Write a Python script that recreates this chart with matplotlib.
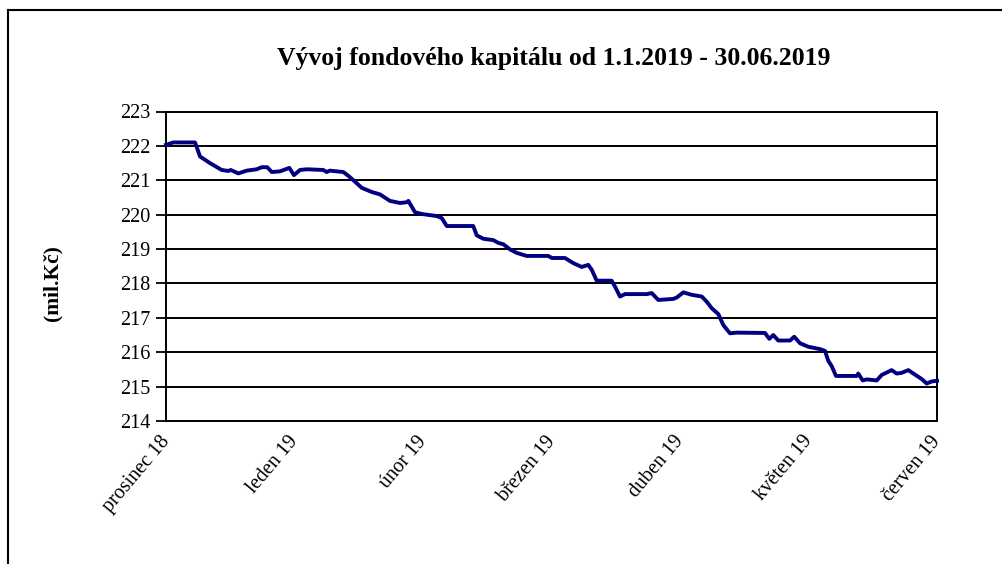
import matplotlib
matplotlib.use("Agg")
import matplotlib.pyplot as plt
import matplotlib.transforms as mtransforms
from matplotlib.lines import Line2D

# x positions in months from "prosinec 18" (0) to "červen 19" (6)
month_pos = [0.0, 0.057, 0.226, 0.265, 0.342, 0.433, 0.485, 0.503, 0.563, 0.628,
             0.706, 0.745, 0.788, 0.823, 0.887, 0.960, 0.996, 1.043, 1.095, 1.224,
             1.250, 1.276, 1.380, 1.419, 1.471, 1.523, 1.601, 1.665, 1.743, 1.821,
             1.873, 1.886, 1.938, 1.990, 2.107, 2.146, 2.185, 2.391, 2.418, 2.469,
             2.547, 2.586, 2.625, 2.677, 2.729, 2.807, 2.975, 3.002, 3.105, 3.170,
             3.235, 3.286, 3.313, 3.352, 3.468, 3.494, 3.533, 3.572, 3.741, 3.780,
             3.831, 3.948, 3.974, 4.026, 4.091, 4.169, 4.208, 4.247, 4.298, 4.337,
             4.389, 4.441, 4.661, 4.695, 4.726, 4.765, 4.856, 4.889, 4.934, 4.998,
             5.089, 5.128, 5.154, 5.180, 5.214, 5.375, 5.387, 5.422, 5.453, 5.531,
             5.570, 5.609, 5.647, 5.686, 5.725, 5.777, 5.816, 5.881, 5.920, 5.959,
             6.0]
capital = [222.03, 222.10, 222.10, 221.69, 221.50, 221.30, 221.27, 221.30, 221.20, 221.28,
           221.32, 221.38, 221.38, 221.24, 221.26, 221.36, 221.15, 221.30, 221.32, 221.30,
           221.24, 221.28, 221.24, 221.13, 220.96, 220.78, 220.66, 220.59, 220.40, 220.34,
           220.36, 220.40, 220.07, 220.02, 219.96, 219.90, 219.67, 219.67, 219.40, 219.30,
           219.26, 219.18, 219.14, 218.99, 218.89, 218.80, 218.80, 218.74, 218.74, 218.59,
           218.48, 218.54, 218.40, 218.08, 218.08, 217.91, 217.62, 217.69, 217.69, 217.72,
           217.52, 217.55, 217.59, 217.74, 217.67, 217.62, 217.47, 217.28, 217.11, 216.79,
           216.55, 216.57, 216.56, 216.39, 216.50, 216.34, 216.34, 216.45, 216.26, 216.16,
           216.09, 216.04, 215.75, 215.60, 215.31, 215.31, 215.38, 215.18, 215.21, 215.18,
           215.34, 215.41, 215.48, 215.38, 215.40, 215.48, 215.38, 215.22, 215.09, 215.15,
           215.17]
tick_labels = ["prosinec 18", "leden 19", "únor 19", "březen 19", "duben 19",
               "květen 19", "červen 19"]
y_ticks = [214, 215, 216, 217, 218, 219, 220, 221, 222, 223]

title = "Vývoj fondového kapitálu od 1.1.2019 - 30.06.2019"
ylabel = "(mil.Kč)"

serif = ["Liberation Serif", "DejaVu Serif"]

fig = plt.figure(figsize=(10.02, 5.64), dpi=100)
W, H = 1002, 564
ax = fig.add_axes([166 / W, 1 - 421 / H, (937 - 166) / W, (421 - 111.5) / H])

ax.plot(month_pos, capital, color="#000080", linewidth=2.8, solid_joinstyle="round",
        zorder=3, clip_on=False)

ax.set_xlim(0, 6)
ax.set_ylim(214, 223)
ax.set_yticks(y_ticks)
ax.set_yticklabels([str(v) for v in y_ticks], family=serif, fontsize=14.5)
ax.set_xticks(range(len(tick_labels)))
ax.set_xticklabels(tick_labels, family=serif, fontsize=14.5, rotation=50,
                   ha="right", va="top", rotation_mode="anchor")
ax.tick_params(axis="x", length=0, pad=8)
ax.tick_params(axis="y", length=7, width=1.3, pad=4, direction="out")
shift = mtransforms.ScaledTranslation(-7 / 100, 0, fig.dpi_scale_trans)
for lbl in ax.get_xticklabels():
    lbl.set_transform(lbl.get_transform() + shift)
ax.yaxis.grid(True, color="black", linewidth=1.4)
ax.set_axisbelow(True)
for s in ax.spines.values():
    s.set_linewidth(1.4)
    s.set_color("black")

fig.text(554 / W, 1 - 58 / H, title, family=serif, fontweight="bold", fontsize=18.5,
         ha="center", va="center")
fig.text(52 / W, 1 - 283 / H, ylabel, family=serif, fontweight="bold", fontsize=15.5,
         rotation=90, ha="center", va="center")

# outer chart frame (top and left edges visible)
fig.add_artist(Line2D([8 / W, 1.0], [1 - 10 / H, 1 - 10 / H], color="black", linewidth=1.5,
                      transform=fig.transFigure))
fig.add_artist(Line2D([8 / W, 8 / W], [0.0, 1 - 10 / H], color="black", linewidth=1.5,
                      transform=fig.transFigure))

fig.savefig("out.png", dpi=100, facecolor="white")
